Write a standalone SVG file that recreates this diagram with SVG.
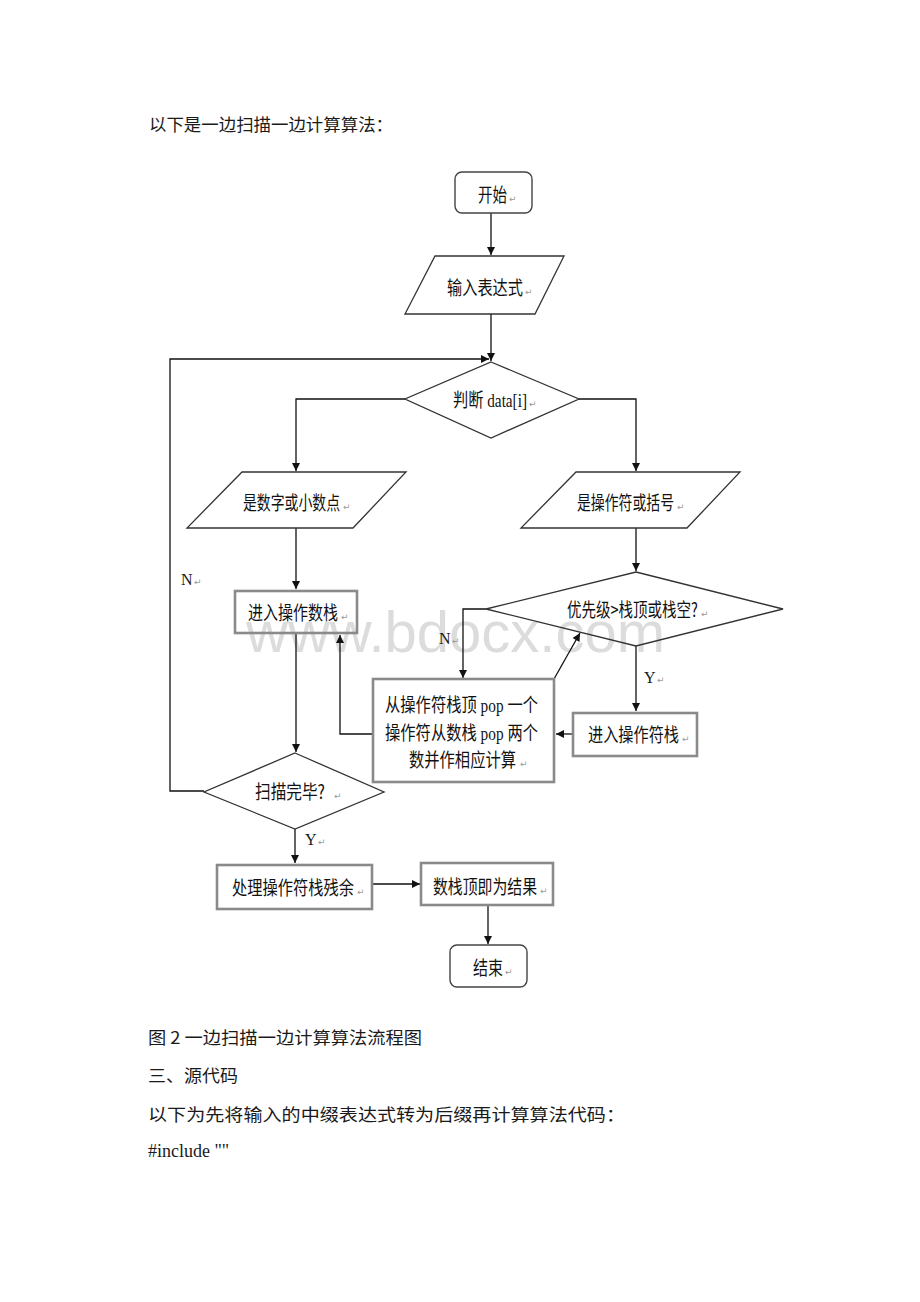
<svg xmlns="http://www.w3.org/2000/svg" width="920" height="1302" viewBox="0 0 920 1302">
<style>
.bg{fill:#ffffff}
.t{font-family:"Noto Sans CJK SC","Liberation Sans",sans-serif;font-size:19px;fill:#111}
.b{font-family:"Noto Sans CJK SC","Liberation Serif",serif;font-size:17px;fill:#1a1a1a}
.e{font-family:"Liberation Serif",serif}
.lb{font-family:"Liberation Serif",serif;font-size:16px;fill:#1a1a1a}
.r{font-family:"DejaVu Sans",sans-serif;font-size:9px;fill:#9a9a9a}
.wm{font-family:"Liberation Sans",Arial,sans-serif;font-size:58px;fill:#dcdcdc}
.sh{fill:none;stroke:#333;stroke-width:1.3}
.bx{fill:none;stroke:#8a8a8a;stroke-width:2.6}
.tm{fill:none;stroke:#444;stroke-width:1.4}
.c{fill:none;stroke:#111;stroke-width:1.3}
</style>
<defs>
<marker id="ah" viewBox="0 0 10 10" refX="10" refY="5" markerWidth="9" markerHeight="8" markerUnits="userSpaceOnUse" orient="auto">
<path d="M0,0 L10,5 L0,10 z" fill="#111"/>
</marker>
</defs>
<rect class="bg" x="0" y="0" width="920" height="1302"/>
<text class="b" x="149" y="131" textLength="244" lengthAdjust="spacingAndGlyphs">以下是一边扫描一边计算算法：</text>
<text class="wm" x="246" y="652">www.bdocx.com</text>

<g id="connectors">
<path class="c" d="M491,213 V255" marker-end="url(#ah)"/>
<path class="c" d="M491,314 V361" marker-end="url(#ah)"/>
<path class="c" d="M204,791 H170 V359 H489" marker-end="url(#ah)"/>
<path class="c" d="M405,399 H296 V471" marker-end="url(#ah)"/>
<path class="c" d="M579,399 H636 V471" marker-end="url(#ah)"/>
<path class="c" d="M296,528 V589" marker-end="url(#ah)"/>
<path class="c" d="M636,528 V571" marker-end="url(#ah)"/>
<path class="c" d="M486,609 H463 V678" marker-end="url(#ah)"/>
<path class="c" d="M636,646 V711" marker-end="url(#ah)"/>
<path class="c" d="M573,734 H556" marker-end="url(#ah)"/>
<path class="c" d="M554,679 L580,633" marker-end="url(#ah)"/>
<path class="c" d="M373,734 H340 V635" marker-end="url(#ah)"/>
<path class="c" d="M296,634 V752" marker-end="url(#ah)"/>
<path class="c" d="M295,829 V863" marker-end="url(#ah)"/>
<path class="c" d="M372,884 H420" marker-end="url(#ah)"/>
<path class="c" d="M488,905 V944" marker-end="url(#ah)"/>
<text class="lb" x="181" y="585">N</text><text class="r" x="194" y="585">↵</text>
<text class="lb" x="439" y="644">N</text><text class="r" x="452" y="644">↵</text>
<text class="lb" x="644" y="683">Y</text><text class="r" x="657" y="683">↵</text>
<text class="lb" x="305" y="845">Y</text><text class="r" x="318" y="845">↵</text>
</g>

<g id="start">
<rect class="tm" x="455" y="172" width="77" height="41" rx="7"/>
<text class="t" x="478" y="202" textLength="29" lengthAdjust="spacingAndGlyphs">开始</text><text class="r" x="509" y="202">↵</text>
</g>

<g id="input">
<polygon class="sh" points="435,256 564,256 535,314 405,314"/>
<text class="t" x="447" y="295" textLength="76" lengthAdjust="spacingAndGlyphs">输入表达式</text><text class="r" x="525" y="295">↵</text>
</g>

<g id="judge">
<polygon class="sh" points="491,362 579,399 491,438 405,399"/>
<text class="t" x="453" y="407" textLength="74" lengthAdjust="spacingAndGlyphs">判断<tspan class="e"> data[i]</tspan></text><text class="r" x="529" y="407">↵</text>
</g>

<g id="isnum">
<polygon class="sh" points="242,472 406,472 353,528 187,528"/>
<text class="t" x="243" y="510" textLength="97" lengthAdjust="spacingAndGlyphs">是数字或小数点</text><text class="r" x="343" y="510">↵</text>
</g>

<g id="isop">
<polygon class="sh" points="576,472 740,472 687,528 521,528"/>
<text class="t" x="577" y="510" textLength="97" lengthAdjust="spacingAndGlyphs">是操作符或括号</text><text class="r" x="677" y="510">↵</text>
</g>

<g id="pushnum">
<rect class="bx" x="235" y="591" width="122" height="42"/>
<text class="t" x="248" y="620" textLength="90" lengthAdjust="spacingAndGlyphs">进入操作数栈</text><text class="r" x="341" y="620">↵</text>
</g>

<g id="prio">
<polygon class="sh" points="636,572 783,609 636,646 486,609"/>
<text class="t" x="567" y="617" textLength="131" lengthAdjust="spacingAndGlyphs">优先级&gt;栈顶或栈空?</text><text class="r" x="701" y="617">↵</text>
</g>

<g id="calc">
<rect class="bx" x="373" y="679" width="181" height="103"/>
<text class="t" x="385" y="712" textLength="153" lengthAdjust="spacingAndGlyphs">从操作符栈顶<tspan class="e"> pop </tspan>一个</text>
<text class="t" x="385" y="740" textLength="153" lengthAdjust="spacingAndGlyphs">操作符从数栈<tspan class="e"> pop </tspan>两个</text>
<text class="t" x="409" y="767" textLength="107" lengthAdjust="spacingAndGlyphs">数并作相应计算</text><text class="r" x="520" y="767">↵</text>
</g>

<g id="pushop">
<rect class="bx" x="573" y="713" width="124" height="43"/>
<text class="t" x="588" y="742" textLength="91" lengthAdjust="spacingAndGlyphs">进入操作符栈</text><text class="r" x="682" y="742">↵</text>
</g>

<g id="done">
<polygon class="sh" points="295,753 384,792 295,829 204,792"/>
<text class="t" x="255" y="799" textLength="70" lengthAdjust="spacingAndGlyphs">扫描完毕?</text><text class="r" x="334" y="799">↵</text>
</g>

<g id="rest">
<rect class="bx" x="217" y="865" width="155" height="44"/>
<text class="t" x="232" y="895" textLength="122" lengthAdjust="spacingAndGlyphs">处理操作符栈残余</text><text class="r" x="357" y="895">↵</text>
</g>

<g id="result">
<rect class="bx" x="421" y="863" width="132" height="42"/>
<text class="t" x="433" y="894" textLength="104" lengthAdjust="spacingAndGlyphs">数栈顶即为结果</text><text class="r" x="540" y="894">↵</text>
</g>

<g id="end">
<rect class="tm" x="450" y="945" width="77" height="42" rx="7"/>
<text class="t" x="473" y="975" textLength="30" lengthAdjust="spacingAndGlyphs">结束</text><text class="r" x="505" y="975">↵</text>
</g>

<text class="b" x="148" y="1044" textLength="274" lengthAdjust="spacingAndGlyphs">图 2 一边扫描一边计算算法流程图</text>
<text class="b" x="148" y="1082" textLength="90" lengthAdjust="spacingAndGlyphs">三、源代码</text>
<text class="b" x="148" y="1121" textLength="477" lengthAdjust="spacingAndGlyphs">以下为先将输入的中缀表达式转为后缀再计算算法代码：</text>
<text x="148" y="1157" style="font-family:'Liberation Serif',serif;font-size:18px;fill:#1a1a1a">#include ""</text>
</svg>
